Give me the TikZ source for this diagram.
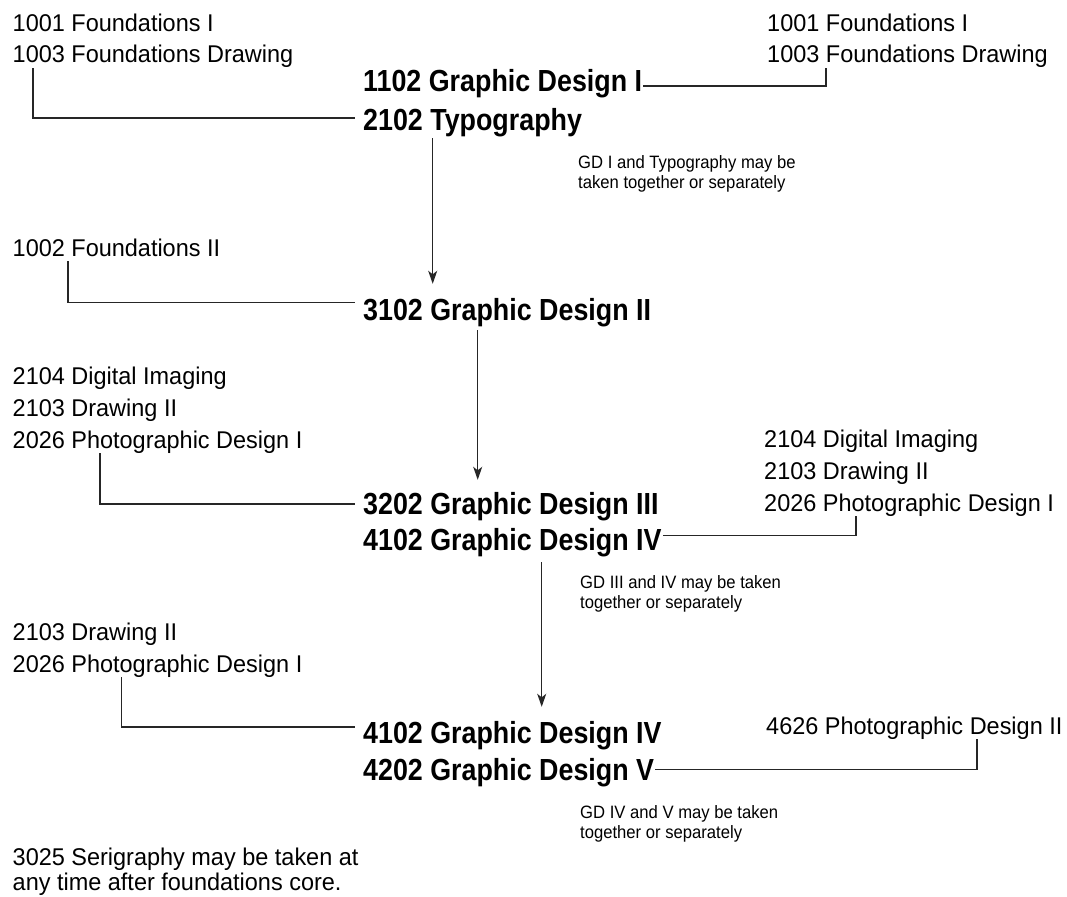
\documentclass[tikz,border=0pt]{standalone}
\usepackage{fontspec}
\setmainfont{Liberation Sans}
\newfontfamily\regface[FakeStretch=0.97]{Liberation Sans}
\newfontfamily\boldface[FakeStretch=0.88]{Liberation Sans}
\newfontfamily\noteface[FakeStretch=0.93]{Liberation Sans}
\usetikzlibrary{arrows.meta}
\tikzset{
  reg/.style={anchor=base west, inner sep=0pt, font=\regface\fontsize{24.2}{28}\selectfont, text height=17pt, text depth=5pt},
  crs/.style={anchor=base west, inner sep=0pt, font=\boldface\bfseries\fontsize{30.5}{36}\selectfont, text height=22pt, text depth=6pt},
  note/.style={anchor=base west, inner sep=0pt, font=\noteface\fontsize{17.9}{20}\selectfont, text height=12pt, text depth=4pt},
  link/.style={line width=1.1pt, draw=black!85},
  arr/.style={line width=1.2pt, draw=black!85, -{Stealth[length=13pt,width=9pt,inset=3.5pt]}},
}
\begin{document}
\begin{tikzpicture}[x=1pt,y=-1pt]
\useasboundingbox (0,0) rectangle (1067,896);
% prerequisite texts
\node[reg] (A1) at (12.5,31.5) {1001 Foundations I};
\node[reg] (A2) at (12.5,63) {1003 Foundations Drawing};
\node[reg] (B1) at (767,31.5) {1001 Foundations I};
\node[reg] (B2) at (767,63) {1003 Foundations Drawing};
\node[reg] (C1) at (12.5,256) {1002 Foundations II};
\node[reg] (E1) at (12.5,384) {2104 Digital Imaging};
\node[reg] (E2) at (12.5,416) {2103 Drawing II};
\node[reg] (E3) at (12.5,448) {2026 Photographic Design I};
\node[reg] (D1) at (764,447) {2104 Digital Imaging};
\node[reg] (D2) at (764,479) {2103 Drawing II};
\node[reg] (D3) at (764,511) {2026 Photographic Design I};
\node[reg] (H1) at (12.5,640) {2103 Drawing II};
\node[reg] (H2) at (12.5,672) {2026 Photographic Design I};
\node[reg] (P) at (766,734) {4626 Photographic Design II};
\node[reg] (S1) at (12.5,865) {3025 Serigraphy may be taken at};
\node[reg] (S2) at (12.5,890) {any time after foundations core.};
% courses
\node[crs] (G1) at (363,92) {1102 Graphic Design I};
\node[crs] (G2) at (363,131) {2102 Typography};
\node[crs] (G3) at (363,320) {3102 Graphic Design II};
\node[crs] (G4) at (363,514) {3202 Graphic Design III};
\node[crs] (G5) at (363,550) {4102 Graphic Design IV};
\node[crs] (G6) at (363,743) {4102 Graphic Design IV};
\node[crs] (G7) at (363,780) {4202 Graphic Design V};
% notes
\node[note] (N1a) at (578,169) {GD I and Typography may be};
\node[note] (N1b) at (578,189) {taken together or separately};
\node[note] (N2a) at (580,588) {GD III and IV may be taken};
\node[note] (N2b) at (580,608) {together or separately};
\node[note] (N3a) at (580,818) {GD IV and V may be taken};
\node[note] (N3b) at (580,838) {together or separately};
% x positions of connector legs
\coordinate (xA) at (33,0);
\coordinate (xB) at (826,0);
\coordinate (xC) at (68,0);
\coordinate (xE) at (100,0);
\coordinate (xD) at (856,0);
\coordinate (xH) at (121.7,0);
\coordinate (xP) at (977,0);
\coordinate (xa1) at (432.7,0);
\coordinate (xa2) at (477.7,0);
\coordinate (xa3) at (541.7,0);
% connectors
\draw[link] (A2.south -| xA) |- ([xshift=-8pt,yshift=13pt]G2.base west);
\draw[link] ([xshift=1pt,yshift=6pt]G1.base east) -| (B2.south -| xB);
\draw[link] (C1.south -| xC) |- ([xshift=-8pt,yshift=17.3pt]G3.base west);
\draw[link] (E3.south -| xE) |- ([xshift=-8pt,yshift=10pt]G4.base west);
\draw[link] ([xshift=1pt,yshift=14.3pt]G5.base east) -| (D3.south -| xD);
\draw[link] (H2.south -| xH) |- ([xshift=-8pt,yshift=16pt]G6.base west);
\draw[link] ([xshift=1pt,yshift=10.7pt]G7.base east) -| (P.south -| xP);
% arrows
\draw[arr, shorten <=1pt, shorten >=14pt] (G2.south -| xa1) -- (G3.north -| xa1);
\draw[arr, shorten <=4pt, shorten >=12pt] (G3.south -| xa2) -- (G4.north -| xa2);
\draw[arr, shorten <=6pt, shorten >=14pt] (G5.south -| xa3) -- (G6.north -| xa3);
\end{tikzpicture}
\end{document}
